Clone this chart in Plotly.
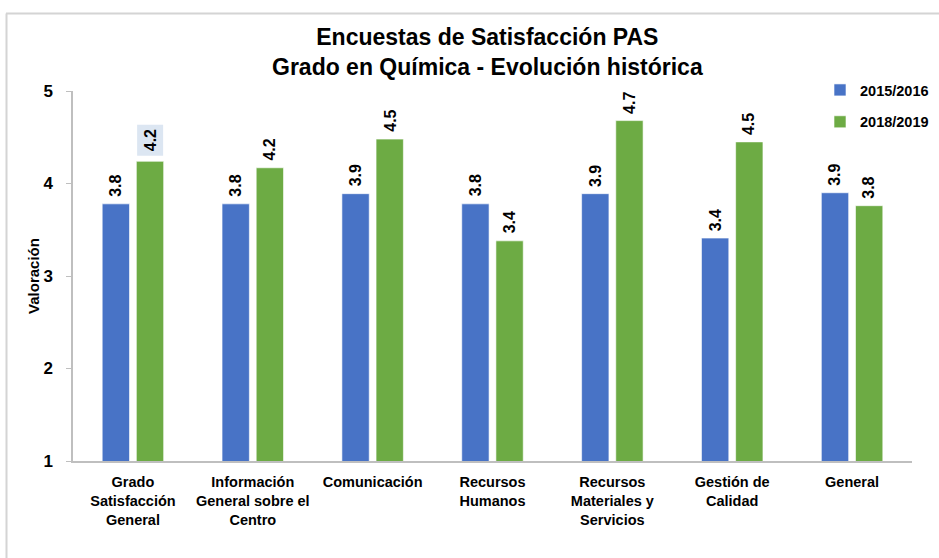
import plotly.graph_objects as go

categories = ["Grado<br>Satisfacción<br>General", "Información<br>General sobre el<br>Centro",
              "Comunicación", "Recursos<br>Humanos", "Recursos<br>Materiales y<br>Servicios",
              "Gestión de<br>Calidad", "General"]
series_names = ["2015/2016", "2018/2019"]
values_2015 = [3.78, 3.78, 3.89, 3.78, 3.89, 3.41, 3.90]
values_2018 = [4.24, 4.17, 4.48, 3.38, 4.68, 4.45, 3.76]
y_ticks = [1, 2, 3, 4, 5]

FONT = "Liberation Sans, Arial, sans-serif"
colors = ["#4873c6", "#6dab44"]

W, H = 939, 558
ML, MR, MT, MB = 73, 27, 91, 97
PW, PH = W - ML - MR, H - MT - MB


def px_x(px):
    return (px - ML) / PW


def px_y(py):
    return (H - MB - py) / PH


fig = go.Figure()
for i, (name, vals) in enumerate(zip(series_names, [values_2015, values_2018])):
    fig.add_trace(go.Bar(x=categories, y=vals, name="<b>" + name + "</b>", marker_color=colors[i],
                         marker_line=dict(color="rgba(255,255,255,0.6)", width=1),
                         legendgroup=name))

# value labels
for i, vals in enumerate([values_2015, values_2018]):
    for j, (c, v) in enumerate(zip(categories, vals)):
        hl = (i == 1 and j == 0)
        fig.add_annotation(x=c, y=v, text=f"<b>{v:.1f}</b>", textangle=-90, showarrow=False,
                           xshift=-17 if i == 0 else 17, yshift=5,
                           yanchor="bottom", xanchor="center",
                           font=dict(family=FONT, size=16, color="#000000"),
                           bgcolor="#dce6f2" if hl else None,
                           borderpad=4 if hl else 1)

# title
fig.add_annotation(xref="paper", yref="paper", x=px_x(487), y=px_y(22), xanchor="center",
                   yanchor="top", showarrow=False, align="center",
                   text="<b>Encuestas de Satisfacción PAS<br>Grado en Química - Evolución histórica</b>",
                   font=dict(family=FONT, size=23, color="#000000"))

# chart border (top and left visible)
fig.add_shape(type="line", xref="paper", yref="paper", x0=px_x(6), x1=px_x(945),
              y0=px_y(13.5), y1=px_y(13.5), line=dict(color="#d4d4d4", width=2))
fig.add_shape(type="line", xref="paper", yref="paper", x0=px_x(6.5), x1=px_x(6.5),
              y0=px_y(13.5), y1=px_y(570), line=dict(color="#d4d4d4", width=2))

fig.update_layout(
    width=W, height=H,
    margin=dict(l=ML, r=MR, t=MT, b=MB, autoexpand=False),
    paper_bgcolor="white", plot_bgcolor="white",
    font=dict(family=FONT, size=15, color="#000000"),
    barmode="group", bargap=0.43, bargroupgap=0.2,
    showlegend=True,
    legend=dict(x=px_x(820), y=px_y(74), xanchor="left", yanchor="top",
                font=dict(family=FONT, size=14.5, color="#000000"),
                traceorder="grouped", tracegroupgap=10, bgcolor="rgba(0,0,0,0)",
                itemwidth=30),
    xaxis=dict(showline=True, linecolor="#bfbfbf", linewidth=1.5, ticks="",
               tickfont=dict(family=FONT, size=14.5, color="#000000"), showgrid=False,
               automargin=False, ticklabelstandoff=7,
               tickvals=categories,
               ticktext=[f"<b>{c.replace('<br>', '</b><br><b>')}</b>" for c in categories]),
    yaxis=dict(range=[1, 5], tickvals=y_ticks, ticktext=[f"<b>{t}</b>" for t in y_ticks],
               showline=True, linecolor="#bfbfbf", linewidth=1.5, ticks="outside",
               ticklen=5, tickcolor="#bfbfbf", showgrid=False, zeroline=False,
               automargin=False,
               tickfont=dict(family=FONT, size=17, color="#000000"), ticklabelstandoff=10,
               title=dict(text="<b>Valoración</b>", font=dict(family=FONT, size=15), standoff=0)),
)

fig.write_html("out.html", config={"displayModeBar": False},
               post_script="document.body.style.margin='0';document.body.style.overflow='hidden';")
